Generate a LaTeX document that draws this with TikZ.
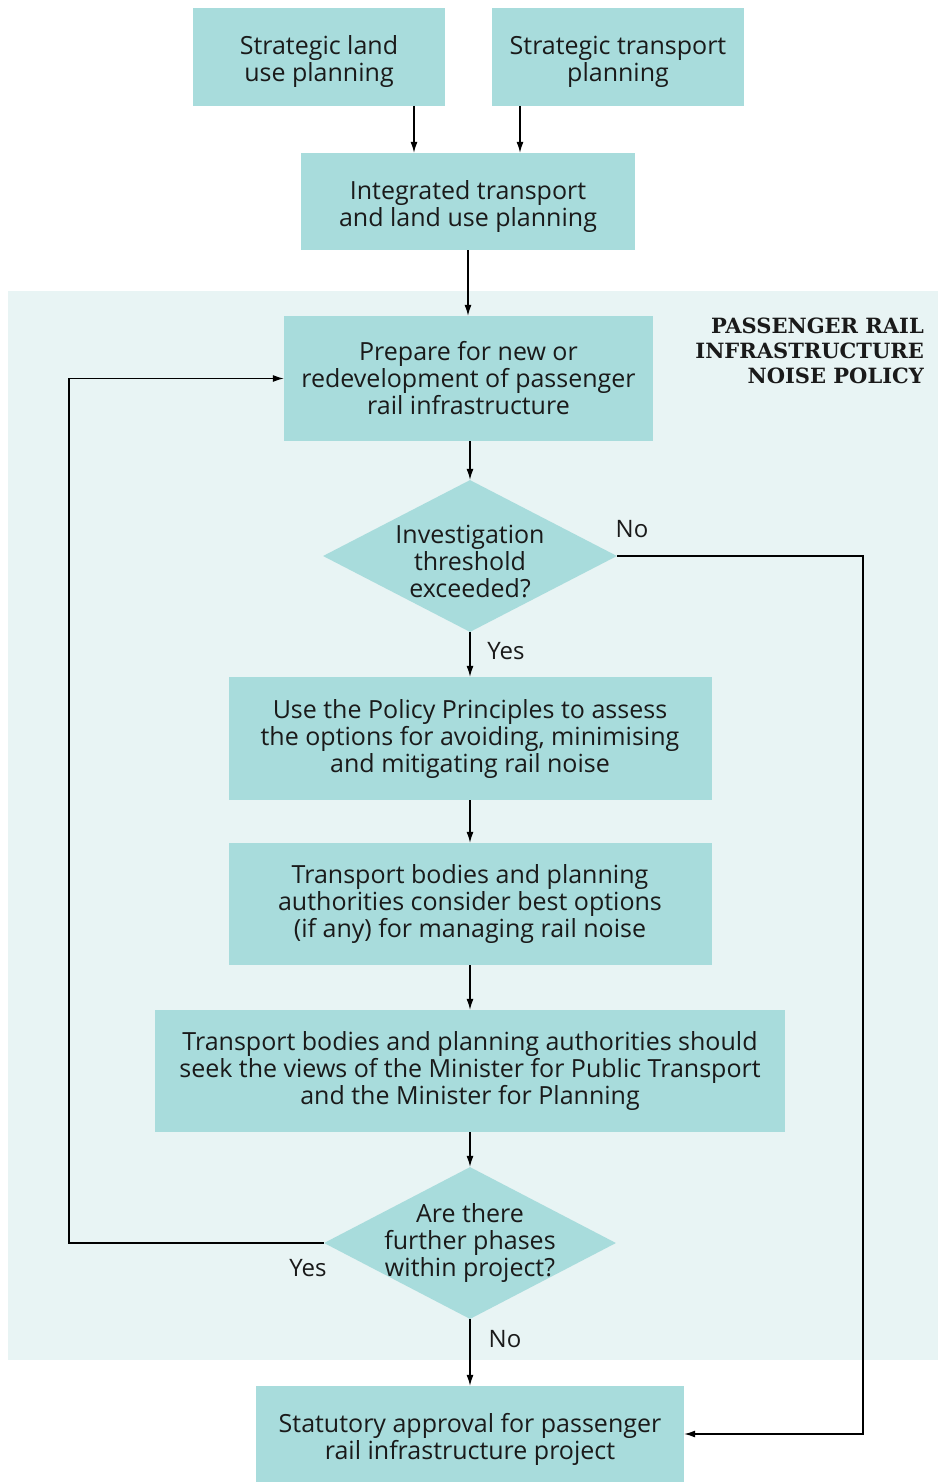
\documentclass[tikz,border=0pt]{standalone}
\usepackage{fontspec}
\setmainfont{Open Sans}
\newfontfamily\titlefont{DejaVu Serif}
\usetikzlibrary{shapes.geometric,arrows.meta}
\definecolor{boxfill}{HTML}{A8DCDC}
\definecolor{panel}{HTML}{E8F4F4}
\definecolor{txt}{HTML}{1A1A1A}
\newcommand\lowerstrut{\rule{0pt}{29pt}}
\tikzset{
  x=1pt,y=-1pt,
  every node/.style={text=txt,font=\fontsize{25}{27}\selectfont},
  procbox/.style={fill=boxfill,inner sep=0pt,align=center},
  decide/.style={diamond,fill=boxfill,inner sep=-20pt,align=center,aspect=1.93},
  conn/.style={draw=black,line width=1.2pt,-{Latex[length=11pt,width=7pt]}},
  lbl/.style={inner sep=0pt,font=\fontsize{24}{27}\selectfont}
}
\begin{document}
\begin{tikzpicture}
\useasboundingbox (0,0) rectangle (938,1482);
\fill[white] (0,0) rectangle (938,1482);
\fill[panel] (8,291) rectangle (938,1360);

\node[procbox,minimum width=252pt,minimum height=98pt] (a) at (319,57) {\lowerstrut Strategic land\\use planning};
\node[procbox,minimum width=252pt,minimum height=98pt] (b) at (618,57) {\lowerstrut Strategic transport\\planning};
\node[procbox,minimum width=334pt,minimum height=97pt] (c) at (468,201.5) {\lowerstrut Integrated transport\\and land use planning};
\node[procbox,minimum width=369pt,minimum height=125pt] (d) at (468.5,378.5) {Prepare for new or\\redevelopment of passenger\\rail infrastructure};
\node[decide,minimum width=294pt,minimum height=152pt] (q1) at (470,556) {\lowerstrut Investigation\\threshold\\exceeded?};
\node[procbox,minimum width=483pt,minimum height=123pt] (e) at (470,738.5) {Use the Policy Principles to assess\\the options for avoiding, minimising\\and mitigating rail noise};
\node[procbox,minimum width=483pt,minimum height=122pt] (f) at (470,904) {Transport bodies and planning\\authorities consider best options\\(if any) for managing rail noise};
\node[procbox,minimum width=630pt,minimum height=122pt] (g) at (470,1071) {Transport bodies and planning authorities should\\seek the views of the Minister for Public Transport\\and the Minister for Planning};
\node[decide,minimum width=292pt,minimum height=152pt] (q2) at (470,1243) {Are there\\further phases\\within project?};
\node[procbox,minimum width=428pt,minimum height=96pt] (h) at (470,1434) {\lowerstrut Statutory approval for passenger\\rail infrastructure project};

\node[anchor=north east,align=right,inner sep=0pt,font=\titlefont\bfseries\fontsize{21}{25}\selectfont] (title) at (924,318) {PASSENGER RAIL\\INFRASTRUCTURE\\NOISE POLICY};

\coordinate (a1) at (414,106);
\coordinate (b1) at (520,106);
\draw[conn] (a1) -- (a1 |- c.north);
\draw[conn] (b1) -- (b1 |- c.north);
\draw[conn] (c.south) -- (c.south |- d.north);
\draw[conn] (d.south -| q1.north) -- (q1.north);
\draw[conn] (q1.south) -- (e.north);
\draw[conn] (e.south) -- (f.north);
\draw[conn] (f.south) -- (g.north);
\draw[conn] (g.south) -- (q2.north);
\draw[conn] (q2.south) -- (h.north);
\coordinate (nocorner) at (863,552);
\draw[conn] (q1.east) -- (q1.east -| nocorner) -- (nocorner |- h.east) -- (h.east);
\coordinate (yescorner) at (69,1242);
\draw[conn] (q2.west) -- (q2.west -| yescorner) -- (yescorner |- d.west) -- (d.west);

\node[lbl] (no1) at (632,529) {No};
\node[lbl] (yes1) at (506,651) {Yes};
\node[lbl] (yes2) at (308,1268) {Yes};
\node[lbl] (no2) at (505,1339) {No};
\end{tikzpicture}
\end{document}
